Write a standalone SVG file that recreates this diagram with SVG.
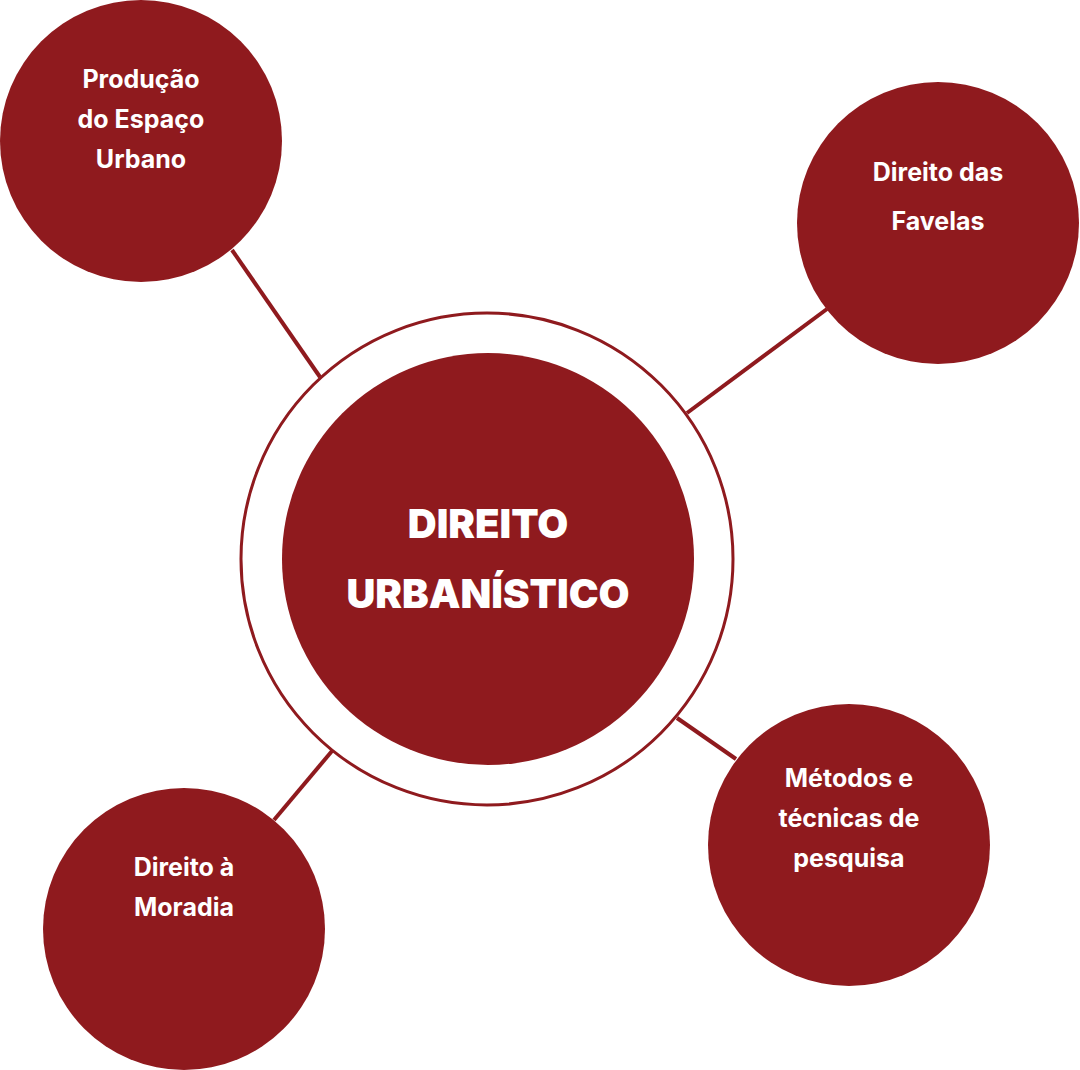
<svg xmlns="http://www.w3.org/2000/svg" width="1080" height="1070" viewBox="0 0 1080 1070">
<style>
.n{fill:#8f1a1e}
.t{fill:#fff;font-family:Inter,"Open Sans",sans-serif;font-weight:700;font-size:25px;text-anchor:middle}
.c{fill:#fff;font-family:Inter,"Open Sans",sans-serif;font-weight:900;font-size:40px;text-anchor:middle}
.l{stroke:#8f1a1e;stroke-width:4}
</style>
<rect width="1080" height="1070" fill="#fff"/>
<g id="connectors">
<line class="l" x1="232" y1="250" x2="320" y2="377"/>
<line class="l" x1="827" y1="309" x2="687" y2="413"/>
<line class="l" x1="677" y1="718" x2="736" y2="759"/>
<line class="l" x1="332" y1="751" x2="274" y2="820"/>
</g>
<g id="center">
<circle cx="487" cy="559" r="246" fill="none" stroke="#8f1a1e" stroke-width="3"/>
<circle class="n" cx="488" cy="559" r="206"/>
<text class="c" x="488" y="538">DIREITO</text>
<text class="c" x="488" y="608">URBANÍSTICO</text>
</g>
<g id="producao">
<circle class="n" cx="141" cy="141" r="141"/>
<text class="t" x="141" y="88">Produção</text>
<text class="t" x="141" y="128">do Espaço</text>
<text class="t" x="141" y="168">Urbano</text>
</g>
<g id="favelas">
<circle class="n" cx="938" cy="223" r="141"/>
<text class="t" x="938" y="181">Direito das</text>
<text class="t" x="938" y="230">Favelas</text>
</g>
<g id="metodos">
<circle class="n" cx="849" cy="845" r="141"/>
<text class="t" x="849" y="787">Métodos e</text>
<text class="t" x="849" y="827">técnicas de</text>
<text class="t" x="849" y="867">pesquisa</text>
</g>
<g id="moradia">
<circle class="n" cx="184" cy="929" r="141"/>
<text class="t" x="184" y="876">Direito à</text>
<text class="t" x="184" y="916">Moradia</text>
</g>
</svg>
